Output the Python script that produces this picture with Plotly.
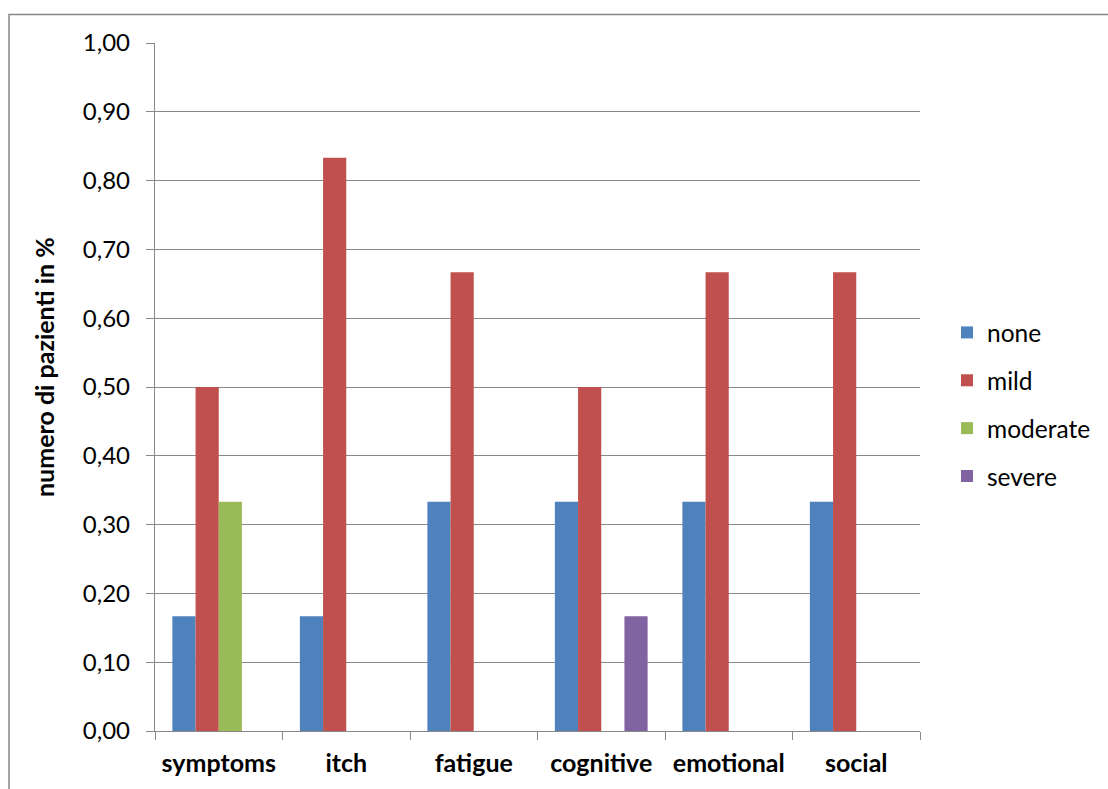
import plotly.graph_objects as go

categories = ["symptoms", "itch", "fatigue", "cognitive", "emotional", "social"]
series_names = ["none", "mild", "moderate", "severe"]
none_vals = [0.1667, 0.1667, 0.3333, 0.3333, 0.3333, 0.3333]
mild_vals = [0.5, 0.8333, 0.6667, 0.5, 0.6667, 0.6667]
moderate_vals = [0.3333, 0, 0, 0, 0, 0]
severe_vals = [0, 0, 0, 0.1667, 0, 0]
colors = ["#4F81BD", "#C0504D", "#9BBB59", "#8064A2"]
y_ticks = [0, 0.1, 0.2, 0.3, 0.4, 0.5, 0.6, 0.7, 0.8, 0.9, 1.0]

FONT = "Lato"
GRID = "#888888"

W, H = 1108, 789
L, R, T, B = 155, 188, 43, 58

fig = go.Figure()
for name, vals, col in zip(series_names,
                           [none_vals, mild_vals, moderate_vals, severe_vals],
                           colors):
    fig.add_trace(go.Bar(x=categories, y=vals, name=name, marker_color=col,
                         marker_line_width=0, legendgroup=name))

pw = W - L - R
ph = H - T - B

fig.update_layout(
    width=W, height=H,
    margin=dict(l=L, r=R, t=T, b=B, pad=0, autoexpand=False),
    paper_bgcolor="white", plot_bgcolor="white",
    separators=", ",
    barmode="group", bargap=0.2727, bargroupgap=0,
    font=dict(family=FONT, size=24, color="black"),
    showlegend=True,
    legend=dict(x=(947 - L) / pw, y=(H - 310 - B) / ph, xanchor="left", yanchor="top",
                font=dict(family=FONT, size=24.5), tracegroupgap=13,
                traceorder="grouped", itemwidth=30, bgcolor="rgba(0,0,0,0)"),
    xaxis=dict(range=[-0.5, 5.5], showline=True, linecolor=GRID, linewidth=1.3,
               ticks="outside", tickson="boundaries", ticklen=8, tickcolor=GRID,
               tickwidth=1.3, showgrid=False, ticklabelstandoff=10,
               tickfont=dict(family=FONT, size=25, color="black", weight="bold")),
    yaxis=dict(range=[0, 1], tickvals=y_ticks, tickformat=".2f", showline=True,
               linecolor=GRID, linewidth=1.3, ticks="outside", ticklen=8,
               tickcolor=GRID, tickwidth=1.3, showgrid=True, gridcolor=GRID,
               gridwidth=1.3, zeroline=False, ticklabelstandoff=11,
               tickfont=dict(family=FONT, size=24, color="black")),
    annotations=[dict(text="<b>numero di pazienti in %</b>", textangle=-90,
                      xref="paper", yref="paper", x=(44 - L) / pw,
                      y=(H - B - 367) / ph, xanchor="center", yanchor="middle",
                      showarrow=False, font=dict(family=FONT, size=25, color="black"))],
    shapes=[dict(type="rect", xref="paper", yref="paper",
                 x0=(9 - L) / pw, x1=(1112 - L) / pw,
                 y0=(H - B - 800) / ph, y1=(H - B - 14.5) / ph,
                 line=dict(color=GRID, width=1.5), layer="below")],
)

fig.write_html("out.html")
